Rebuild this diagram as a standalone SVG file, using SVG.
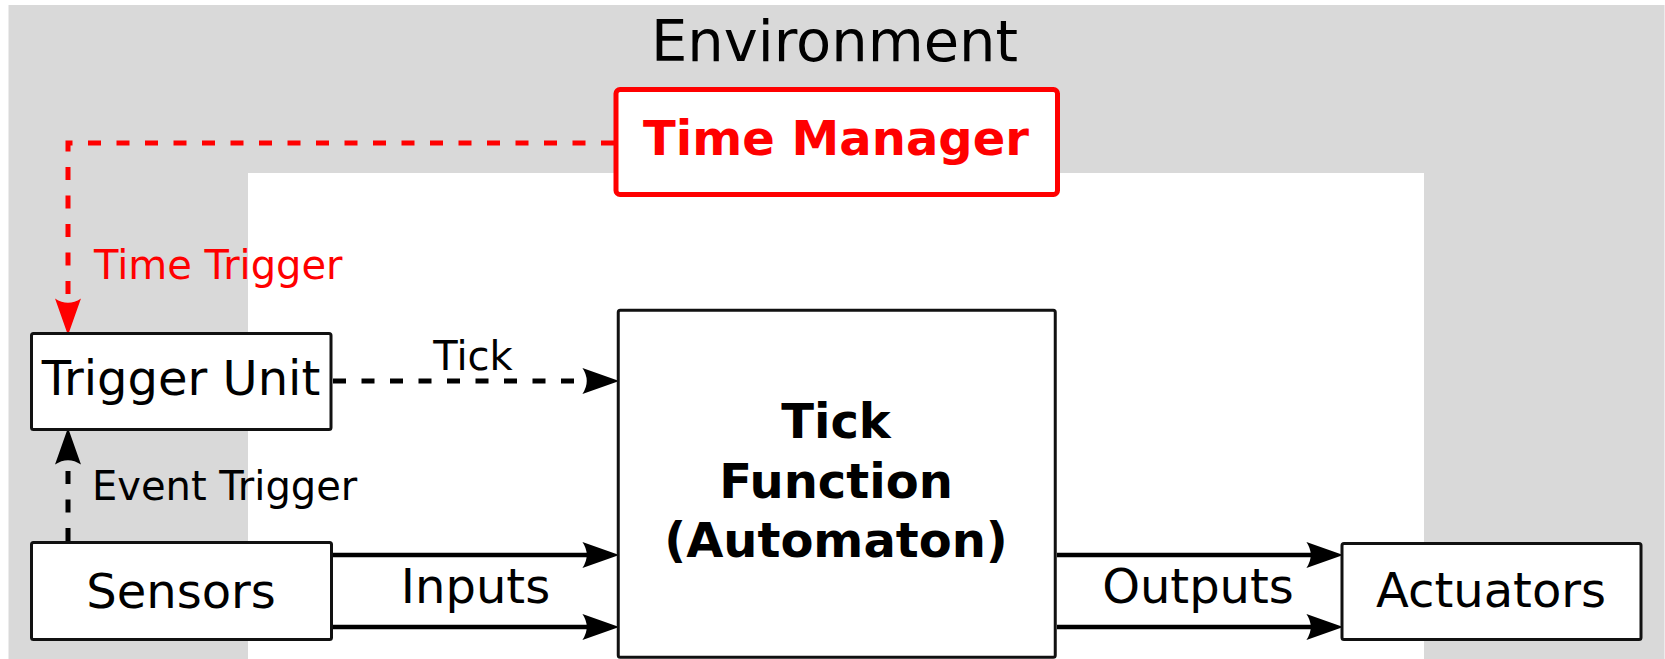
<svg xmlns="http://www.w3.org/2000/svg" width="1665" height="659" viewBox="0 0 1665 659">
  <defs>
    <style>
      text { font-family: "DejaVu Sans", "Liberation Sans", sans-serif; }
      .box { fill: #ffffff; stroke: #111111; stroke-width: 3; }
      .lbl { font-size: 48px; fill: #000000; text-anchor: middle; }
      .bold { font-weight: bold; }
      .wire { fill: none; stroke: #000000; stroke-width: 4.5; }
      .dash { stroke-width: 5; stroke-dasharray: 13 15.5; }
      .red { stroke: #ff0000; }
    </style>
    <marker id="arrow-black" markerUnits="userSpaceOnUse" markerWidth="40" markerHeight="30" viewBox="-1 -13 37 26" refX="7" refY="0" orient="auto">
      <path d="M0,-12 Q8,0 0,12 L34,0 Z" fill="#000000"/>
    </marker>
    <marker id="arrow-red" markerUnits="userSpaceOnUse" markerWidth="40" markerHeight="30" viewBox="-1 -13 37 26" refX="7" refY="0" orient="auto">
      <path d="M0,-12 Q8,0 0,12 L34,0 Z" fill="#ff0000"/>
    </marker>
  </defs>

  <!-- environment background with the system area cut out -->
  <g id="environment">
    <rect x="8.5" y="5" width="1656" height="654" fill="#d9d9d9"/>
    <rect x="248" y="173" width="1176" height="486" fill="#ffffff"/>
    <text x="834.5" y="61" font-size="57.5" text-anchor="middle" fill="#000000">Environment</text>
  </g>

  <!-- connectors -->
  <g id="connectors">
    <path class="wire dash red" d="M614,143 H68 V306" marker-end="url(#arrow-red)"/>
    <path class="wire dash" d="M68,541 V457" marker-end="url(#arrow-black)"/>
    <path class="wire dash" d="M333,381 H590" marker-end="url(#arrow-black)"/>
    <path class="wire" d="M333,555 H590" marker-end="url(#arrow-black)"/>
    <path class="wire" d="M333,627 H590" marker-end="url(#arrow-black)"/>
    <path class="wire" d="M1057,555 H1314" marker-end="url(#arrow-black)"/>
    <path class="wire" d="M1057,627 H1314" marker-end="url(#arrow-black)"/>
    <text x="94" y="279" font-size="40" fill="#ff0000">Time Trigger</text>
    <text x="92" y="500" font-size="40" fill="#000000">Event Trigger</text>
    <text x="473" y="370" font-size="40" text-anchor="middle" fill="#000000">Tick</text>
    <text class="lbl" x="475.5" y="603">Inputs</text>
    <text class="lbl" x="1198" y="603">Outputs</text>
  </g>

  <g id="time-manager">
    <rect x="616" y="89.5" width="441.5" height="105" rx="4" fill="#ffffff" stroke="#ff0000" stroke-width="5"/>
    <text class="bold" x="836" y="155" font-size="48" text-anchor="middle" fill="#ff0000">Time Manager</text>
  </g>

  <g id="trigger-unit">
    <rect class="box" x="31.5" y="333.5" width="299.5" height="96" rx="2"/>
    <text class="lbl" x="181" y="395" font-size="46.7">Trigger Unit</text>
  </g>

  <g id="sensors">
    <rect class="box" x="31.5" y="542.5" width="300" height="97" rx="2"/>
    <text class="lbl" x="181" y="608">Sensors</text>
  </g>

  <g id="tick-function">
    <rect class="box" x="618.25" y="310.25" width="437" height="347" rx="2" stroke-width="2.5"/>
    <text class="lbl bold" x="836" y="438">Tick</text>
    <text class="lbl bold" x="836" y="498">Function</text>
    <text class="lbl bold" x="836" y="557">(Automaton)</text>
  </g>

  <g id="actuators">
    <rect class="box" x="1342" y="543.5" width="299" height="96" rx="2"/>
    <text class="lbl" x="1491" y="607">Actuators</text>
  </g>
</svg>
